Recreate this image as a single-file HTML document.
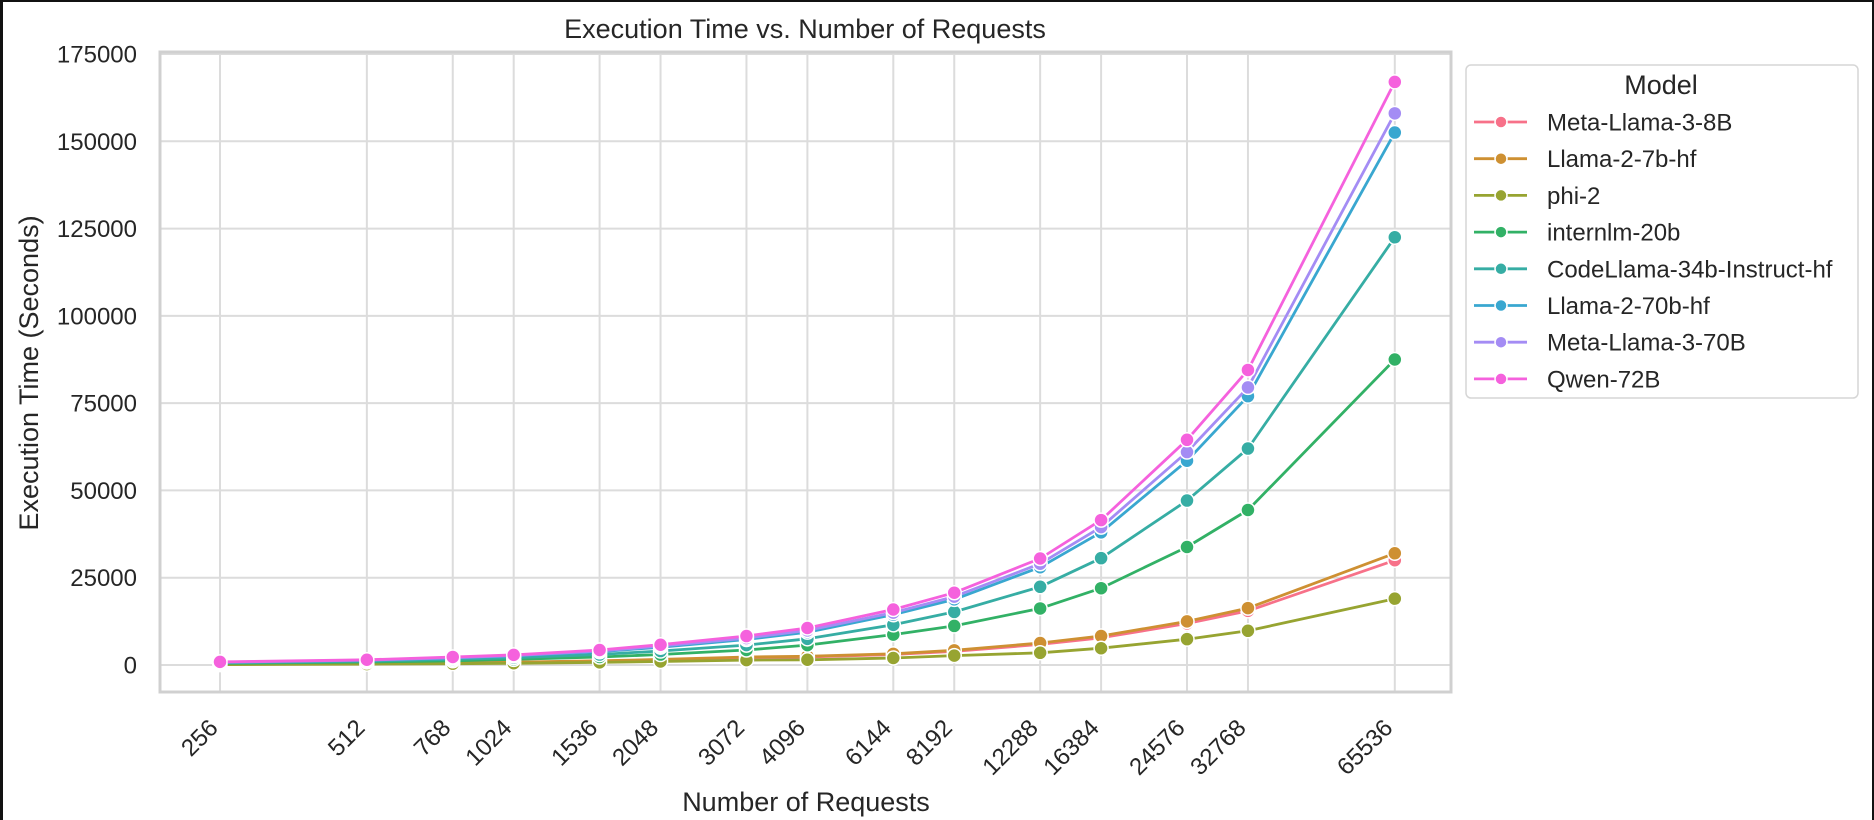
<!DOCTYPE html>
<html><head><meta charset="utf-8">
<style>
html,body{margin:0;padding:0;background:#fff;}
#wrap{width:1874px;height:820px;box-sizing:border-box;border-left:3px solid #111;border-top:2px solid #111;border-right:2px solid #111;overflow:hidden;position:relative;}
svg{position:absolute;left:-3px;top:-2px;font-family:"Liberation Sans",Arial,sans-serif;}
</style></head><body>
<div id="wrap">
<svg id="chart" width="1874" height="820"></svg>
</div>
<script>
const categories=[256,512,768,1024,1536,2048,3072,4096,6144,8192,12288,16384,24576,32768,65536];
const seriesNames=["Meta-Llama-3-8B","Llama-2-7b-hf","phi-2","internlm-20b","CodeLlama-34b-Instruct-hf","Llama-2-70b-hf","Meta-Llama-3-70B","Qwen-72B"];
const seriesColors=["#f77189","#ce9032","#97a431","#32b166","#36ada4","#39a7d0","#a48cf4","#f561dd"];
const metaLlama8b=[180,380,550,750,1100,1500,2100,2300,3000,3900,5900,7800,11900,15500,30000];
const llama7b=[200,400,600,800,1200,1600,2300,2500,3200,4200,6300,8300,12500,16300,32000];
const phi2=[120,250,380,500,750,1000,1400,1500,2000,2700,3500,4800,7400,9800,19000];
const internlm20b=[450,850,1200,1600,2300,3000,4300,5700,8700,11200,16200,22000,33800,44400,87500];
const codeLlama34b=[600,1100,1600,2100,3000,4000,5700,7500,11500,15200,22400,30600,47100,62000,122500];
const llama70b=[750,1350,2000,2600,3800,5100,7300,9400,14400,18800,28000,38000,58500,77000,152500];
const metaLlama70b=[800,1400,2100,2700,4000,5400,7700,9900,15000,19600,29000,39500,61000,79500,158000];
const qwen72b=[900,1500,2300,2900,4300,5800,8300,10600,15900,20700,30500,41500,64500,84500,167000];
const yTicks=[0,25000,50000,75000,100000,125000,150000,175000];
const allSeries=[metaLlama8b,llama7b,phi2,internlm20b,codeLlama34b,llama70b,metaLlama70b,qwen72b];

const NS="http://www.w3.org/2000/svg";
const svg=document.getElementById('chart');
const L=160,R=1451,T=52,B=692;
function xs(v){return 220+(Math.log2(v)-8)*146.85;}
function ys(v){return 665-v*(665-54)/175000;}
function mk(tag,attrs,parent){const e=document.createElementNS(NS,tag);for(const k in attrs)e.setAttribute(k,attrs[k]);(parent||svg).appendChild(e);return e;}

let t=mk('text',{x:805,y:38,'text-anchor':'middle','font-size':27,fill:'#262626'});t.textContent='Execution Time vs. Number of Requests';



const grid=mk('g',{});


yTicks.forEach(v=>{const l=mk('line',{x1:L,x2:R,y1:ys(v),y2:ys(v),stroke:'#dcdcdc','stroke-width':2},grid);

});
categories.forEach(c=>{const l=mk('line',{x1:xs(c),x2:xs(c),y1:T,y2:B,stroke:'#dcdcdc','stroke-width':2},grid);

});

const sp=mk('rect',{x:L,y:T,width:R-L,height:B-T,fill:'none',stroke:'#d0d0d0','stroke-width':3});



yTicks.forEach(v=>{const e=mk('text',{x:137,y:ys(v)+8.5,'text-anchor':'end','font-size':24,fill:'#262626'});e.textContent=String(v);

});
categories.forEach(c=>{const x=xs(c)-10,y=720;const e=mk('text',{x:x,y:y,'text-anchor':'end','font-size':24,fill:'#262626',transform:`rotate(-45 ${x} ${y})`,dy:'0.55em'});e.textContent=String(c);

});

let xl=mk('text',{x:806,y:811,'text-anchor':'middle','font-size':27,fill:'#262626'});xl.textContent='Number of Requests';


let yl=mk('text',{x:38,y:373,'text-anchor':'middle','font-size':27,fill:'#262626',transform:'rotate(-90 38 373)'});yl.textContent='Execution Time (Seconds)';



allSeries.forEach((vals,si)=>{
  const g=mk('g',{});
  
  
  const pts=vals.map((v,i)=>xs(categories[i]).toFixed(1)+','+ys(v).toFixed(1)).join(' ');
  const pl=mk('polyline',{points:pts,fill:'none',stroke:seriesColors[si],'stroke-width':2.8,'stroke-linejoin':'round'},g);
  
  
  vals.forEach((v,i)=>{const c=mk('circle',{cx:xs(categories[i]),cy:ys(v),r:7,fill:seriesColors[si],stroke:'#fff','stroke-width':1.5},g);
  
  });
});

const lg=mk('g',{});


mk('rect',{x:1466,y:65,width:392,height:333,rx:5,fill:'#fff',stroke:'#d6d6d6','stroke-width':1.5},lg);
let lt=mk('text',{x:1661,y:94,'text-anchor':'middle','font-size':27,fill:'#262626'},lg);lt.textContent='Model';


seriesNames.forEach((n,i)=>{
  const y=122+i*36.7;
  const e=mk('g',{},lg);
  
  
  mk('line',{x1:1474,x2:1527,y1:y,y2:y,stroke:seriesColors[i],'stroke-width':2.8},e);
  mk('circle',{cx:1501,cy:y,r:6,fill:seriesColors[i],stroke:'#fff','stroke-width':1.5},e);
  const tx=mk('text',{x:1547,y:y+8.5,'font-size':24,fill:'#262626'},e);tx.textContent=n;
});
</script>
</body></html>
